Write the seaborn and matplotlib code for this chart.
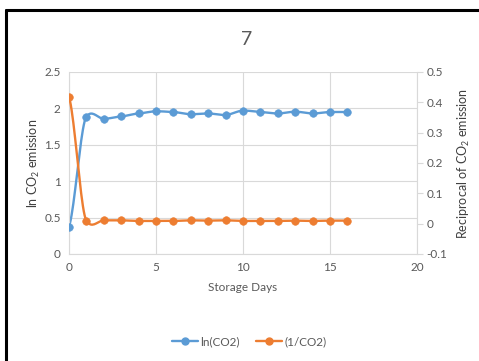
import numpy as np
import pandas as pd
import seaborn as sns
import matplotlib.pyplot as plt
from matplotlib.lines import Line2D

days = [0, 1, 2, 3, 4, 5, 6, 7, 8, 9, 10, 11, 12, 13, 14, 15, 16]
ln_co2 = [0.375, 1.886, 1.857, 1.89, 1.93, 1.96, 1.95, 1.92, 1.93, 1.91,
          1.97, 1.95, 1.93, 1.955, 1.93, 1.95, 1.95]
inv_co2 = [0.418, 0.010, 0.011, 0.011, 0.009, 0.009, 0.009, 0.011, 0.010, 0.011,
           0.009, 0.009, 0.009, 0.010, 0.009, 0.010, 0.010]

blue = '#5B9BD5'
orange = '#ED7D31'
grey = '#595959'


def smooth(x, y, k=0.45, n=20):
    # hermite curve through the points (softened catmull-rom), like excel's smoothed line
    x = np.asarray(x, float)
    y = np.asarray(y, float)
    m = np.zeros_like(y)
    m[1:-1] = k * (y[2:] - y[:-2]) / 2
    m[0] = k * (y[1] - y[0])
    m[-1] = k * (y[-1] - y[-2])
    t = np.linspace(0, 1, n, endpoint=False)
    h00 = 2 * t**3 - 3 * t**2 + 1
    h10 = t**3 - 2 * t**2 + t
    h01 = -2 * t**3 + 3 * t**2
    h11 = t**3 - t**2
    xs, ys = [], []
    for i in range(len(x) - 1):
        xs.extend(x[i] + t * (x[i + 1] - x[i]))
        ys.extend(h00 * y[i] + h10 * m[i] + h01 * y[i + 1] + h11 * m[i + 1])
    xs.append(x[-1])
    ys.append(y[-1])
    return pd.DataFrame({'x': xs, 'y': ys})


sns.set_style('white')
plt.rcParams['font.family'] = ['Lato', 'DejaVu Sans']
plt.rcParams['mathtext.default'] = 'regular'

fig = plt.figure(figsize=(4.79, 3.61), dpi=100)
ax = fig.add_axes([0.144, 0.2964, 0.7266, 0.5042])
ax2 = ax.twinx()

s1 = smooth(days, ln_co2)
s2 = smooth(days, inv_co2)
sns.lineplot(data=s1, x='x', y='y', ax=ax, color=blue, lw=1.7, sort=False, estimator=None)
sns.scatterplot(x=days, y=ln_co2, ax=ax, color=blue, s=30, edgecolor=blue, zorder=3)
sns.lineplot(data=s2, x='x', y='y', ax=ax2, color=orange, lw=1.7, sort=False, estimator=None)
sns.scatterplot(x=days, y=inv_co2, ax=ax2, color=orange, s=30, edgecolor=orange, zorder=3)

ax.set_xlim(0, 20)
ax.set_ylim(0, 2.5)
ax2.set_ylim(-0.1, 0.5)
ax.set_xticks([0, 5, 10, 15, 20])
ax.set_yticks(np.arange(0, 2.51, 0.5))
ax.set_yticklabels(['0', '0.5', '1', '1.5', '2', '2.5'])
ax2.set_yticks(np.arange(-0.1, 0.51, 0.1))
ax2.set_yticklabels(['-0.1', '0', '0.1', '0.2', '0.3', '0.4', '0.5'])

ax.grid(True, color='#D9D9D9', lw=0.8)
ax.set_axisbelow(True)
for a in (ax, ax2):
    for sp in a.spines.values():
        sp.set_visible(False)
ax.spines['left'].set_visible(True)
ax.spines['bottom'].set_visible(True)
ax2.spines['right'].set_visible(True)
for sp in (ax.spines['left'], ax.spines['bottom'], ax2.spines['right']):
    sp.set_color('#D9D9D9')

ax.tick_params(axis='both', length=0, labelsize=8.5, labelcolor=grey, pad=6)
ax2.tick_params(axis='y', length=4, color='#D9D9D9', labelsize=8.5, labelcolor=grey, pad=3)

ax.set_xlabel('Storage Days', fontsize=8.5, color=grey, labelpad=6)
ax.set_ylabel('ln CO$_2$ emission', fontsize=9, color='#404040')
ax.yaxis.set_label_coords(-0.078, 0.5)
ax2.set_ylabel('Reciprocal of CO$_2$ emission', fontsize=9, color='#404040', labelpad=6)

fig.text(0.515, 0.89, '7', ha='center', va='center', fontsize=14, color=grey)

handles = [Line2D([], [], color=blue, lw=1.7, marker='o', ms=5),
           Line2D([], [], color=orange, lw=1.7, marker='o', ms=5)]
fig.legend(handles, ['ln(CO2)', '(1/CO2)'], loc='center', bbox_to_anchor=(0.52, 0.053),
           ncol=2, frameon=False, fontsize=8.5, labelcolor=grey, handlelength=2.2,
           handletextpad=0.2, columnspacing=1.4)

# black frame on left and top
fig.add_artist(Line2D([0.0125, 0.0125], [0, 0.972], color='black', lw=2.2, transform=fig.transFigure))
fig.add_artist(Line2D([0.0125, 1.0], [0.972, 0.972], color='black', lw=2.2, transform=fig.transFigure))

fig.savefig('out.png', dpi=100)
